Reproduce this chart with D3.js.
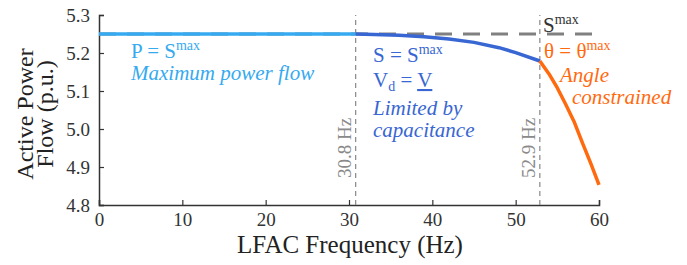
<!DOCTYPE html>
<html><head><meta charset="utf-8">
<script src="https://cdn.jsdelivr.net/npm/d3@7"></script>
<style>body{margin:0;background:#fff}svg{display:block}</style>
</head><body><svg id="c" width="687" height="265"></svg>
<script>
const xTicks = [0,10,20,30,40,50,60];
const yTicks = [4.8,4.9,5.0,5.1,5.2,5.3];
const maxFreq = [0, 30.8];
const maxPower = [5.25, 5.25];
const capFreq = [30.8, 33, 36, 39, 42, 45, 48, 50, 52.9];
const capPower = [5.250, 5.249, 5.247, 5.243, 5.237, 5.228, 5.214, 5.201, 5.179];
const angFreq = [52.9, 54, 55, 56, 57, 58, 59, 60];
const angPower = [5.179, 5.145, 5.108, 5.065, 5.020, 4.964, 4.910, 4.853];
const sMax = 5.25;
const sMaxRange = [0, 59.2];
const boundaries = [30.8, 52.9];
const boundaryLabels = ["30.8 Hz", "52.9 Hz"];

const FONT = "Liberation Serif, Tinos, Times New Roman, serif";
const svg = d3.select("#c");
const x = d3.scaleLinear().domain([0,60]).range([99,599]);
const y = d3.scaleLinear().domain([4.8,5.3]).range([205,15]);
const axCol = "#333";
const T = sel => sel.attr("font-family", FONT);

// axes
const gx = svg.append("g").attr("transform","translate(0,205)")
  .call(d3.axisBottom(x).tickValues(xTicks).tickSize(-5).tickPadding(8).tickFormat(d3.format("d")));
const gy = svg.append("g").attr("transform","translate(99,0)")
  .call(d3.axisLeft(y).tickValues(yTicks).tickSize(-5).tickPadding(9).tickFormat(d3.format(".1f")));
[gx,gy].forEach(g=>{
  g.attr("font-family", FONT).attr("font-size", 19);
  g.select(".domain").attr("stroke",axCol).attr("stroke-width",1.5);
  g.selectAll(".tick line").attr("stroke",axCol).attr("stroke-width",1.2);
  g.selectAll(".tick text").attr("fill",axCol).attr("font-family",FONT).attr("font-size",19);
});

// vertical boundary lines
boundaries.forEach((b,i)=>{
  svg.append("line").attr("x1",x(b)).attr("x2",x(b)).attr("y1",y(4.8)).attr("y2",y(5.3))
    .attr("stroke","#888").attr("stroke-width",1.2).attr("stroke-dasharray","5,4");
  svg.append("text").attr("transform",`translate(${x(b)-5},148) rotate(-90)`)
    .attr("text-anchor","middle").attr("fill","#8a8a8a").call(T).attr("font-size",19).text(boundaryLabels[i]);
});

// S max dashed
svg.append("line").attr("x1",x(sMaxRange[0])).attr("x2",x(sMaxRange[1])).attr("y1",y(sMax)).attr("y2",y(sMax))
  .attr("stroke","#808080").attr("stroke-width",3).attr("stroke-dasharray","17,11");

const line = d3.line().x(d=>x(d[0])).y(d=>y(d[1]));
const draw = (xs,ys,col)=> svg.append("path").datum(xs.map((v,i)=>[v,ys[i]])).attr("d",line)
  .attr("fill","none").attr("stroke",col).attr("stroke-width",3.5).attr("stroke-linejoin","round");
draw(maxFreq,maxPower,"#35aaf0");
draw(capFreq,capPower,"#3866d2");
draw(angFreq,angPower,"#ff6a0f");

// labels
function eqLabel(xp,yp,col,parts){
  const t = svg.append("text").attr("x",xp).attr("y",yp).attr("fill",col).call(T).attr("font-size",21);
  parts.forEach(p=>{
    const s = t.append("tspan").text(p.t);
    if(p.sup){ s.attr("dy",-8).attr("font-size",14); }
    if(p.sub){ s.attr("dy",4).attr("font-size",14); }
    if(p.back){ s.attr("dy",p.back); }
    if(p.u){ s.attr("text-decoration","underline"); }
  });
  return t;
}
function itLabel(xp,yp,col,txt){
  svg.append("text").attr("x",xp).attr("y",yp).attr("fill",col).call(T)
    .attr("font-size",21).attr("font-style","italic").text(txt);
}
eqLabel(131,58,"#35aaf0",[{t:"P = S"},{t:"max",sup:true}]);
itLabel(131,80,"#35aaf0","Maximum power flow");
eqLabel(373,62,"#3866d2",[{t:"S = S"},{t:"max",sup:true}]);
eqLabel(373,87,"#3866d2",[{t:"V"},{t:"d",sub:true},{t:" = ",back:-4},{t:"V",u:true}]);
itLabel(373,115,"#3866d2","Limited by");
itLabel(373,137,"#3866d2","capacitance");
eqLabel(544,58,"#ff6a0f",[{t:"θ = θ"},{t:"max",sup:true}]);
itLabel(560,82,"#ff6a0f","Angle");
itLabel(572,104,"#ff6a0f","constrained");
eqLabel(543,32,"#333",[{t:"S"},{t:"max",sup:true}]);

// axis titles
svg.append("text").attr("x",350).attr("y",253).attr("text-anchor","middle").attr("fill","#222")
  .call(T).attr("font-size",25).text("LFAC Frequency (Hz)");
svg.append("text").attr("transform","translate(33,114) rotate(-90)").attr("text-anchor","middle").attr("fill","#222")
  .call(T).attr("font-size",24).text("Active Power");
svg.append("text").attr("transform","translate(53,114) rotate(-90)").attr("text-anchor","middle").attr("fill","#222")
  .call(T).attr("font-size",24).text("Flow (p.u.)");
</script></body></html>
